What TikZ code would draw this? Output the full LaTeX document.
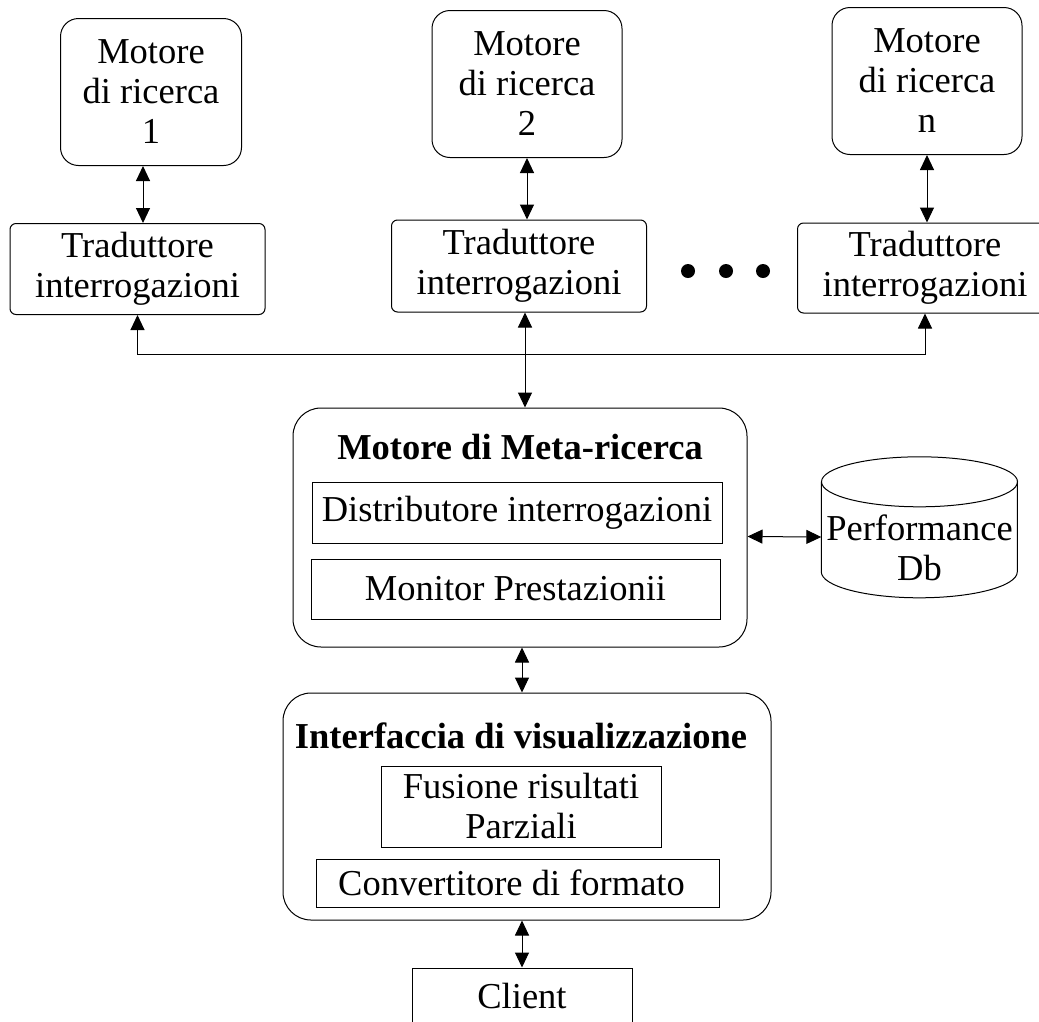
\documentclass[tikz,border=0pt]{standalone}
\usepackage{fontspec}
\setmainfont{Liberation Serif}
\usepackage{tikz}
\usetikzlibrary{arrows.meta, positioning, calc}
\newcommand{\bodysize}{\fontsize{36.5}{40}\selectfont}
\tikzset{
  motbox/.style={
    draw, rounded corners=18pt, line width=1pt,
    minimum width=#1, minimum height=147pt, inner sep=0pt,
    font=\bodysize, align=center
  },
  motbox/.default=190pt,
  tradbox/.style={
    draw, rounded corners=6pt, line width=1pt,
    minimum width=255pt, minimum height=91pt, inner sep=0pt,
    font=\bodysize, align=center
  },
  bigbox/.style={draw, rounded corners=28pt, line width=1pt, inner sep=0pt},
  inbox/.style={
    draw, line width=1pt, inner sep=0pt,
    font=\bodysize, align=center
  },
  ttl/.style={font=\bodysize\bfseries, inner sep=0pt},
  arr/.style={{Triangle[length=15pt,width=14pt]}-{Triangle[length=15pt,width=14pt]}, line width=1pt},
  uarr/.style={-{Triangle[length=15pt,width=14pt]}, line width=1pt},
}

\begin{document}
\begin{tikzpicture}[x=1pt, y=-1pt]
    \clip (0,0) rectangle (1039,1021);

    \node[motbox=181pt] (mot1) at (151,92) {Motore\\di ricerca\\1};
    \node[motbox] (mot2) at (527,84) {Motore\\di ricerca\\2};
    \node[motbox] (motn) at (927,81) {Motore\\di ricerca\\n};

    \node[tradbox] (trad1) at (137.5,269) {Traduttore\\interrogazioni};
    \node[tradbox, minimum height=92pt] (trad2) at (519,266) {Traduttore\\interrogazioni};
    \node[tradbox, minimum height=90pt] (tradn) at (925,268) {Traduttore\\interrogazioni};

    \foreach \x in {688,726,763}
      \fill (\x,271) circle[radius=7pt];

    \node[bigbox, minimum width=454pt, minimum height=239pt] (meta) at (520,527.5) {};
    \node[ttl] (metattl) at (520,447.5) {Motore di Meta-ricerca};
    \node[inbox, minimum width=410pt, minimum height=61pt] (distr) at (517,512.5)
      {Distributore interrogazioni};
    \node[inbox, minimum width=409pt, minimum height=60pt] (monit) at (515.5,589)
      {Monitor Prestazionii};

    \node[minimum width=196pt, minimum height=142pt, inner sep=0pt] (db) at (919.5,528) {};
    \draw[line width=1pt] (db.north west) ++(0,25) -- ++(0,90)
      arc[start angle=180, end angle=0, x radius=98, y radius=26] -- ++(0,-90);
    \draw[line width=1pt] ($(db.north)+(0,25)$) ellipse [x radius=98, y radius=25];
    \node[font=\bodysize, align=center, inner sep=0pt] (dbtxt) at ($(db.center)+(0,20)$)
      {Performance\\Db};

    \node[bigbox, minimum width=488pt, minimum height=227pt] (inter) at (527,806.5) {};
    \node[ttl] (interttl) at (521,735.5) {Interfaccia di visualizzazione};
    \node[inbox, minimum width=280pt, minimum height=81pt] (fus) at (521,806.5)
      {Fusione risultati\\Parziali};
    \node[inbox, minimum width=403pt, minimum height=48pt] (conv) at (517.5,883)
      {Convertitore di formato\hspace{12pt}};

    \node[inbox, minimum width=220pt, minimum height=56pt] (client) at (522,996) {Client};

    \coordinate (bus) at (525,354);

    \draw[arr] ([xshift=-8pt]mot1.south) -- ([xshift=-8pt]mot1.south |- trad1.north);
    \draw[arr] (mot2.south) -- (mot2.south |- trad2.north);
    \draw[arr] (motn.south) -- (motn.south |- tradn.north);
    \draw[uarr] (bus) -| (trad1.south);
    \draw[uarr] (bus) -| (tradn.south);
    \draw[arr] (bus |- trad2.south) -- (bus |- meta.north);
    \draw[arr] ([yshift=-9pt]meta.east) -- ([yshift=-9pt]db.west);
    \draw[arr] (client.north |- meta.south) -- (client.north |- inter.north);
    \draw[arr] (client.north |- inter.south) -- (client.north);
\end{tikzpicture}
\end{document}
